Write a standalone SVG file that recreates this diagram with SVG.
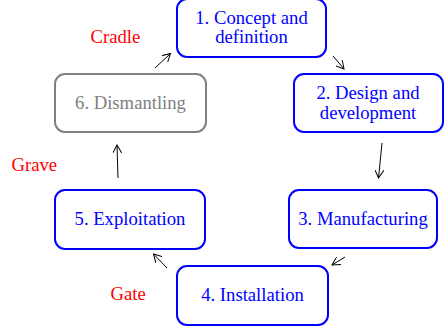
<svg xmlns="http://www.w3.org/2000/svg" width="444" height="334" viewBox="0 0 444 334" font-family="'Liberation Serif', 'DejaVu Serif', serif">
  <defs>
    <marker id="arrow" viewBox="0 0 10 10" refX="9" refY="5" markerWidth="9" markerHeight="9" markerUnits="userSpaceOnUse" orient="auto">
      <path d="M0,0 L9,5 L0,10" fill="none" stroke="#000" stroke-width="1.1"/>
    </marker>
  </defs>
  <style>
    .box { fill: #fff; stroke: #0000ff; stroke-width: 2; }
    .box.off { stroke: #808080; }
    text { font-family: 'Liberation Serif', 'DejaVu Serif', serif; font-size: 18.67px; }
    .txt { fill: #0000ff; text-anchor: middle; }
    .txt.off { fill: #808080; }
    .lbl { fill: #ff0000; }
    .conn { stroke: #000; stroke-width: 1; fill: none; marker-end: url(#arrow); }
  </style>

  <g id="connectors">
    <line class="conn" x1="155" y1="68" x2="170.5" y2="53.5"/>
    <line class="conn" x1="333" y1="56" x2="344" y2="69"/>
    <line class="conn" x1="382" y1="143" x2="378.5" y2="178"/>
    <line class="conn" x1="345" y1="257" x2="332" y2="265"/>
    <line class="conn" x1="167" y1="268" x2="153.5" y2="254"/>
    <line class="conn" x1="118" y1="178" x2="117" y2="145"/>
  </g>

  <g id="node1">
    <rect class="box" x="177" y="-1" width="149" height="58" rx="10"/>
    <text class="txt" x="251.5" y="24">1. Concept and</text>
    <text class="txt" x="251.5" y="43">definition</text>
  </g>
  <g id="node2">
    <rect class="box" x="294" y="74" width="149" height="58" rx="10"/>
    <text class="txt" x="368" y="99">2. Design and</text>
    <text class="txt" x="368" y="119">development</text>
  </g>
  <g id="node3">
    <rect class="box" x="289" y="190" width="148" height="58" rx="10"/>
    <text class="txt" x="363" y="225">3. Manufacturing</text>
  </g>
  <g id="node4">
    <rect class="box" x="177" y="266" width="151" height="59" rx="10"/>
    <text class="txt" x="252.5" y="301">4. Installation</text>
  </g>
  <g id="node5">
    <rect class="box" x="55" y="190" width="150" height="59" rx="10"/>
    <text class="txt" x="130" y="225">5. Exploitation</text>
  </g>
  <g id="node6">
    <rect class="box off" x="55" y="74" width="151" height="58" rx="10"/>
    <text class="txt off" x="130.5" y="109">6. Dismantling</text>
  </g>

  <g id="labels">
    <text class="lbl" x="90.5" y="43">Cradle</text>
    <text class="lbl" x="11.5" y="171">Grave</text>
    <text class="lbl" x="110.5" y="300">Gate</text>
  </g>
</svg>
